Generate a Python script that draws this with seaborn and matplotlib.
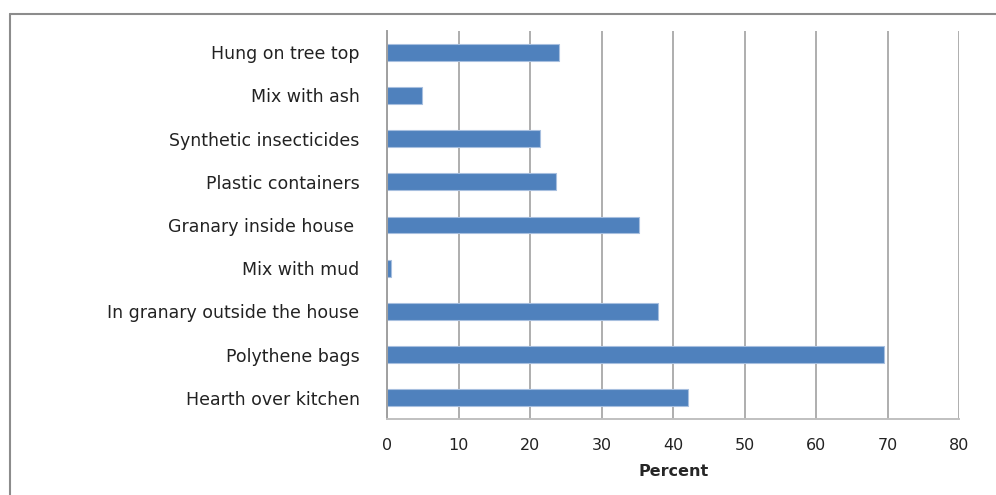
import matplotlib
matplotlib.use("Agg")
import matplotlib.pyplot as plt
import seaborn as sns
import pandas as pd
from matplotlib.lines import Line2D
from matplotlib.ticker import FixedLocator

categories = ["Hung on tree top", "Mix with ash", "Synthetic insecticides",
              "Plastic containers", "Granary inside house ", "Mix with mud",
              "In granary outside the house", "Polythene bags", "Hearth over kitchen"]
percent = [24.0, 4.9, 21.4, 23.6, 35.2, 0.45, 37.9, 69.5, 42.1]
x_ticks = [0, 10, 20, 30, 40, 50, 60, 70, 80]

df = pd.DataFrame({"category": categories, "percent": percent})

sns.set_style("white")
plt.rcParams['font.family'] = ['DejaVu Sans']

fig = plt.figure(figsize=(9.96, 4.95), dpi=100)
ax = fig.add_axes([0.3889, 0.153, 0.9632 - 0.3889, 0.938 - 0.153])

sns.barplot(data=df, x="percent", y="category", order=categories, orient="h",
            color="#4F81BD", saturation=1, width=0.39,
            edgecolor="#A7BFDF", linewidth=0.8, ax=ax)

ax.set_xlim(0, 80)
ax.set_ylim(len(categories) - 0.5, -0.5)
ax.set_xticks(x_ticks)
ax.set_xticklabels([str(t) for t in x_ticks], fontsize=11.5, color="#222222")
ax.xaxis.grid(True, color="#A8A8A8", linewidth=1.3)
ax.set_axisbelow(True)
ax.set_ylabel("")
ax.set_xlabel("Percent", fontsize=11.5, fontweight="bold", labelpad=8)

ax.tick_params(axis="y", which="major", length=0, pad=20, labelsize=12.5, labelcolor="#222222")
ax.yaxis.set_minor_locator(FixedLocator([i - 0.5 for i in range(len(categories) + 1)]))
ax.tick_params(axis="y", which="minor", length=6, width=1.2, color="#B0B0B0", direction="out")
ax.tick_params(axis="x", which="major", length=3.5, width=1.2, color="#B0B0B0", direction="out", pad=10)

for s in ["top", "right"]:
    ax.spines[s].set_visible(False)
ax.spines["left"].set_color("#A0A0A0")
ax.spines["left"].set_linewidth(1.4)
ax.spines["bottom"].set_color("#C0C0C0")
ax.spines["bottom"].set_linewidth(1.4)

# outer frame (left and top edges)
fig.add_artist(Line2D([10/996, 10/996], [0, 1 - 14/495], transform=fig.transFigure,
                      color="#8C8C8C", linewidth=1.5))
fig.add_artist(Line2D([10/996, 1], [1 - 14/495, 1 - 14/495], transform=fig.transFigure,
                      color="#8C8C8C", linewidth=1.5))

fig.savefig("out.png", dpi=100)
